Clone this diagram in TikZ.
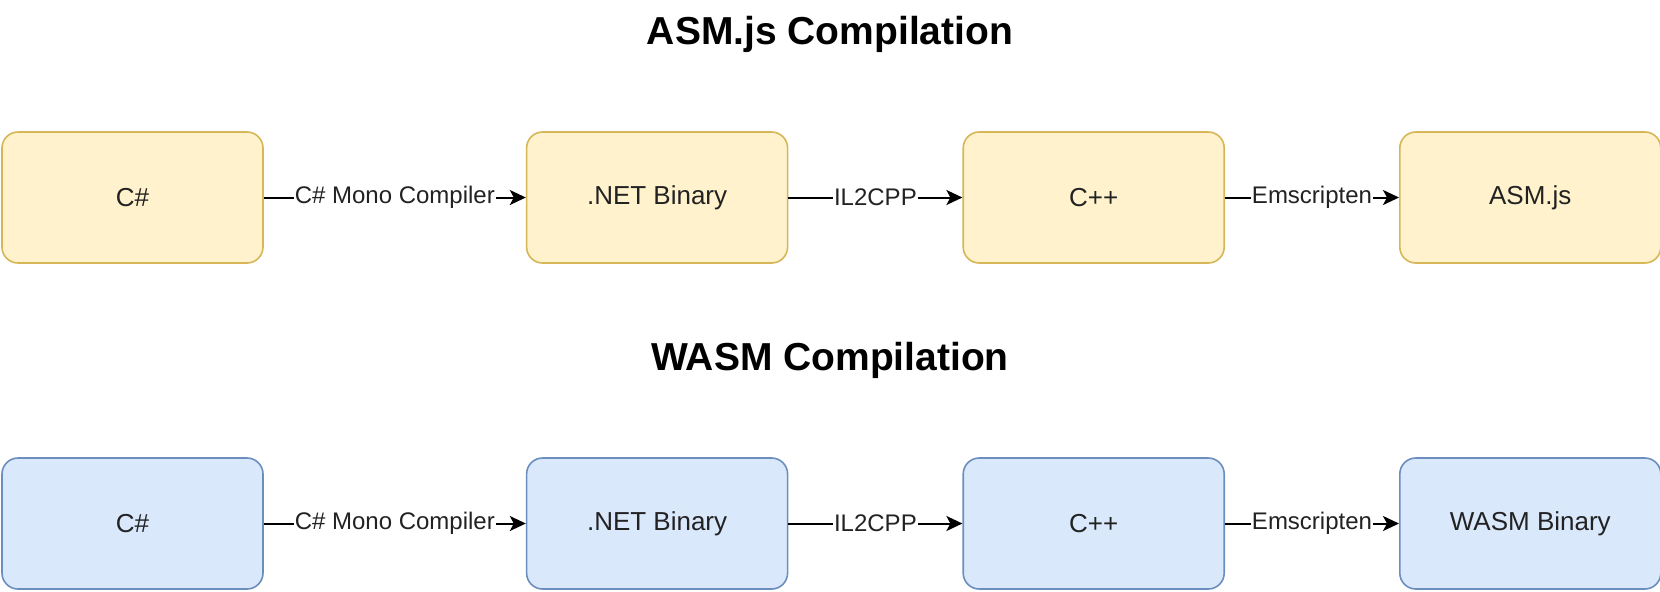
\documentclass[tikz,border=0pt]{standalone}
\usepackage{fontspec}
\setmainfont{Liberation Sans}
\usetikzlibrary{positioning,arrows.meta}
\definecolor{AsmFill}{HTML}{FFF2CC}
\definecolor{AsmLine}{HTML}{D6B656}
\definecolor{WasmFill}{HTML}{DAE8FC}
\definecolor{WasmLine}{HTML}{6C8EBF}
\definecolor{LabelText}{HTML}{222222}

\begin{document}
\begin{tikzpicture}[
  x=1pt, y=1pt,
  node distance=0pt and 87pt,
  every node/.style={font=\fontsize{13pt}{15pt}\selectfont, text=LabelText},
  asmbox/.style={draw=AsmLine, fill=AsmFill, rounded corners=8pt, align=center, minimum width=130.5pt, minimum height=65.5pt, line width=0.8pt},
  wasmbox/.style={draw=WasmLine, fill=WasmFill, rounded corners=8pt, align=center, minimum width=130.5pt, minimum height=65.5pt, line width=0.8pt},
  heading/.style={font=\fontsize{19.5pt}{22pt}\selectfont\bfseries, text=black},
  arrow/.style={-{Stealth[length=8pt,width=7.5pt,inset=2pt]}, line width=1pt, black},
  steplabel/.style={fill=white, inner sep=0.5pt, font=\fontsize{12pt}{14pt}\selectfont}
]
\useasboundingbox (0,0) rectangle (830,-295.5);

% ASM.js pipeline
\node[heading] (asmtitle) at (415,-17) {ASM.js Compilation};
\node[asmbox] (csA) at (66.25,-98.75) {C\#};
\node[asmbox, right=131pt of csA] (netA) {.NET Binary};
\node[asmbox, right=of netA] (cppA) {C++};
\node[asmbox, right=of cppA] (asmjs) {ASM.js};

% WASM pipeline
\node[heading] (wasmtitle) at (415,-180) {WASM Compilation};
\node[wasmbox] (csW) at (66.25,-261.75) {C\#};
\node[wasmbox, right=131pt of csW] (netW) {.NET Binary};
\node[wasmbox, right=of netW] (cppW) {C++};
\node[wasmbox, right=of cppW] (wasmbin) {WASM Binary};

% Connectors
\draw[arrow] (csA) -- (netA) node[midway, steplabel] {C\# Mono Compiler};
\draw[arrow] (netA) -- (cppA) node[midway, steplabel] {IL2CPP};
\draw[arrow] (cppA) -- (asmjs) node[midway, steplabel] {Emscripten};
\draw[arrow] (csW) -- (netW) node[midway, steplabel] {C\# Mono Compiler};
\draw[arrow] (netW) -- (cppW) node[midway, steplabel] {IL2CPP};
\draw[arrow] (cppW) -- (wasmbin) node[midway, steplabel] {Emscripten};
\end{tikzpicture}
\end{document}
